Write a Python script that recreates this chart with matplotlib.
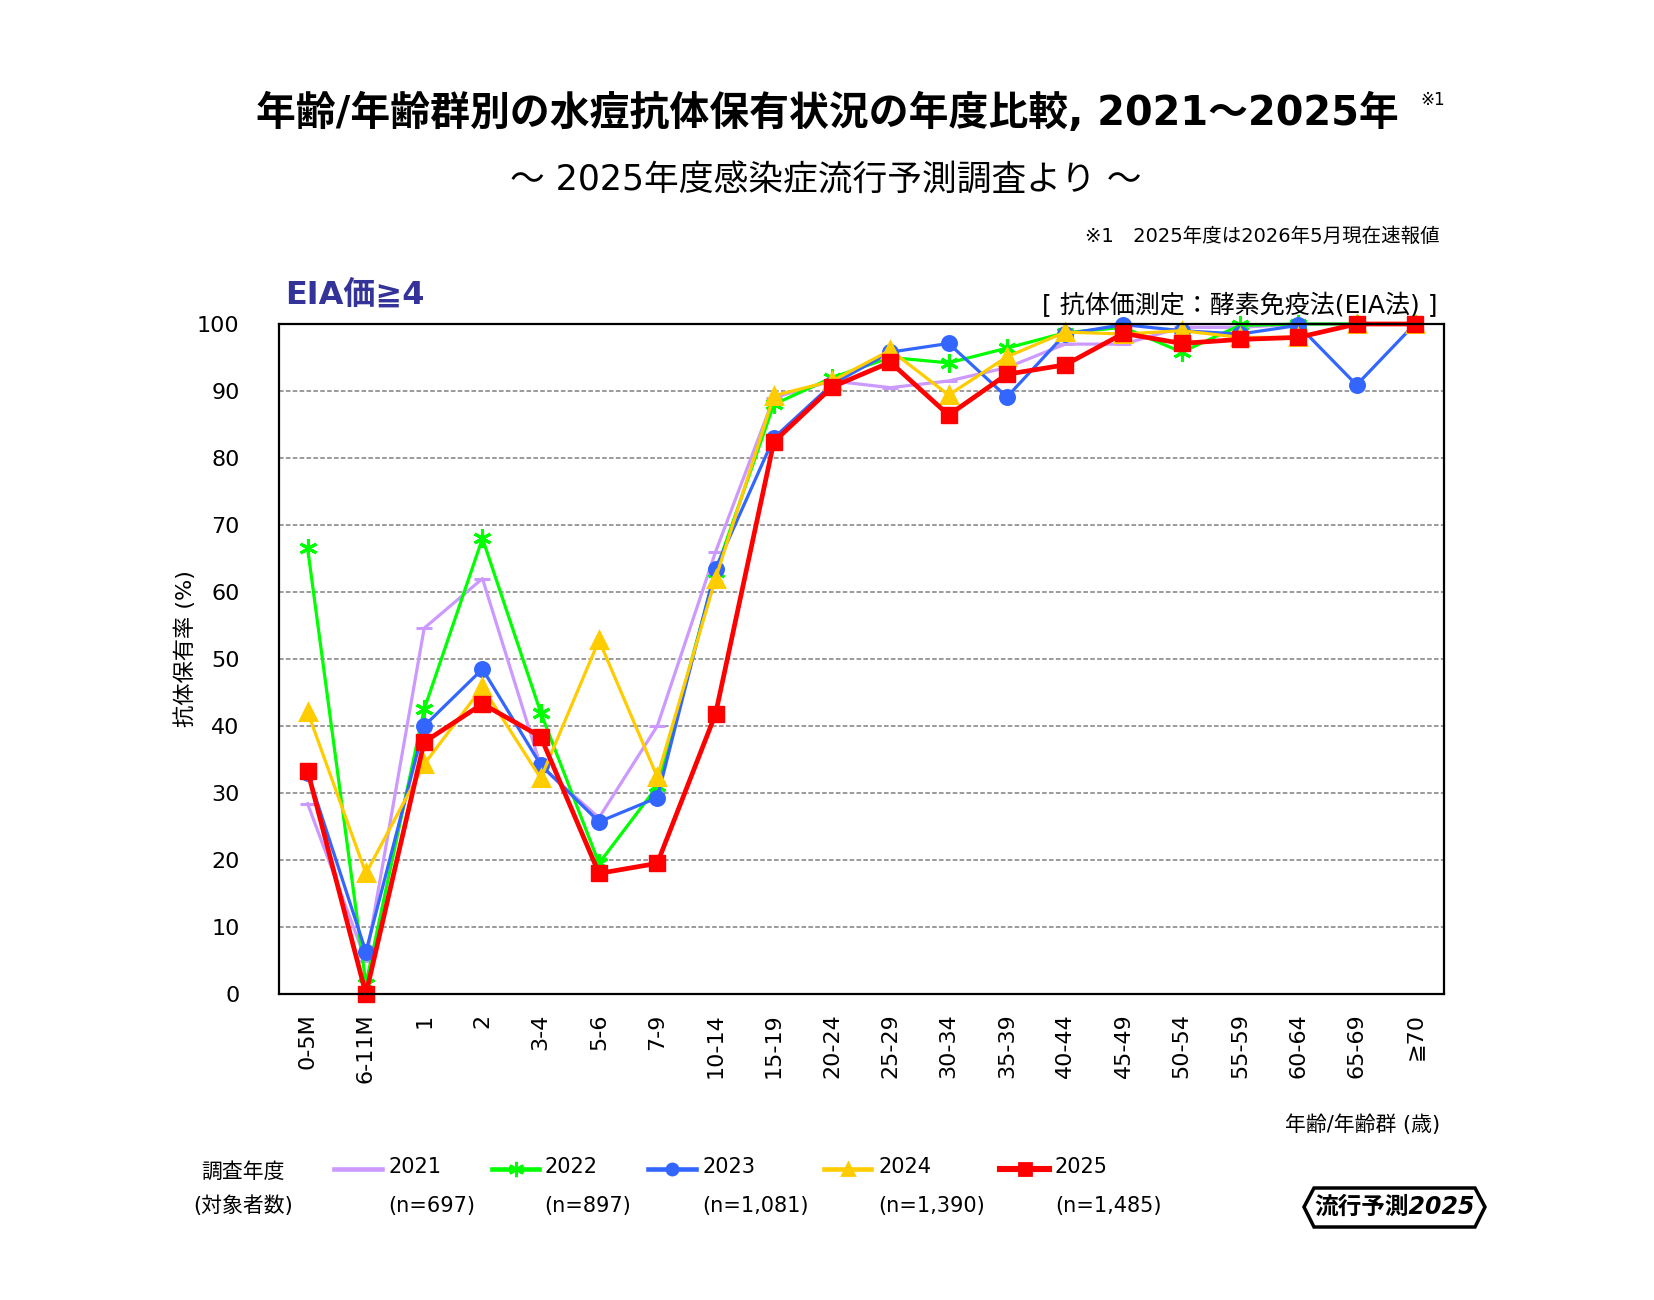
import matplotlib
matplotlib.use("Agg")
import matplotlib.pyplot as plt
from matplotlib.lines import Line2D
from matplotlib.patches import Polygon

plt.rcParams['font.family'] = ['DejaVu Sans', 'Noto Sans CJK JP']

ages = ["0-5M", "6-11M", "1", "2", "3-4", "5-6", "7-9", "10-14", "15-19", "20-24",
        "25-29", "30-34", "35-39", "40-44", "45-49", "50-54", "55-59", "60-64", "65-69", "≧70"]

y2021 = [28.4, 5.0, 54.6, 62.0, 34.0, 26.3, 40.0, 66.0, 89.0, 91.5,
         90.5, 91.5, 93.5, 97.0, 97.0, 99.5, 99.5, 100, 100, 100]
y2022 = [66.5, 1.5, 42.5, 68.0, 42.0, 19.5, 31.0, 63.0, 88.0, 92.0,
         95.0, 94.2, 96.4, 98.7, 99.5, 95.8, 99.8, 100, 100, 100]
y2023 = [33.0, 6.3, 40.0, 48.5, 34.2, 25.7, 29.3, 63.5, 83.0, 91.0,
         95.8, 97.1, 89.1, 98.5, 99.9, 99.0, 98.5, 99.8, 90.9, 100]
y2024 = [42.1, 18.0, 34.3, 45.8, 32.2, 52.8, 32.4, 62.0, 89.3, 91.5,
         96.1, 89.4, 95.1, 98.8, 98.5, 99.0, 98.0, 98.0, 100, 100]
y2025 = [33.3, 0.0, 37.6, 43.3, 38.4, 18.0, 19.5, 41.8, 82.4, 90.6,
         94.3, 86.4, 92.5, 93.9, 98.6, 97.1, 97.7, 98.0, 100, 100]

years = ["2021", "2022", "2023", "2024", "2025"]
counts = ["(n=697)", "(n=897)", "(n=1,081)", "(n=1,390)", "(n=1,485)"]
series = [y2021, y2022, y2023, y2024, y2025]

colors = ["#CC99FF", "#00FF00", "#3366FF", "#FFCC00", "#FF0000"]
markers = ["_", (6, 2, 0), "o", "^", "s"]
msizes = [11, 13, 10, 11, 11]
widths = [2.3, 2.3, 2.3, 2.3, 3.4]

W, H = 1654, 1300


def fx(x):
    return x / W


def fy(y):
    return 1 - y / H


fig = plt.figure(figsize=(W / 100, H / 100), dpi=100)
ax = fig.add_axes([fx(278.5), fy(994), fx(1444) - fx(278.5), fy(324) - fy(994)])

xs = list(range(len(ages)))
for ys, c, m, ms, lw in zip(series, colors, markers, msizes, widths):
    ax.plot(xs, ys, color=c, lw=lw, marker=m, ms=ms, mew=2.2 if m != "s" else 1,
            mfc=c, mec=c, clip_on=False)

ax.set_xlim(-0.5, len(ages) - 0.5)
ax.set_ylim(0, 100)
ax.set_yticks(range(0, 101, 10))
ax.set_xticks(xs)
ax.set_xticklabels(ages, rotation=90, fontsize=16)
ax.tick_params(axis='y', length=0, pad=28, labelsize=16)
ax.tick_params(axis='x', length=0, pad=14)
for t in ax.get_yticklabels():
    t.set_horizontalalignment('right')
ax.grid(axis='y', color='#808080', ls=(0, (3, 1.5)), lw=1.1)
ax.set_axisbelow(True)
for s in ax.spines.values():
    s.set_linewidth(1.6)
    s.set_color('black')

# titles
fig.text(0.5, fy(114), "年齢/年齢群別の水痘抗体保有状況の年度比較, 2021～2025年",
         ha='center', va='center', fontsize=28.7, fontweight='bold')
fig.text(fx(1433), fy(100), "※1", ha='center', va='center', fontsize=12)
fig.text(fx(826), fy(181), "～ 2025年度感染症流行予測調査より ～",
         ha='center', va='center', fontsize=25)
fig.text(fx(1440), fy(236), "※1　2025年度は2026年5月現在速報値",
         ha='right', va='center', fontsize=14)
fig.text(fx(285), fy(295), "EIA価≧4", ha='left', va='center', fontsize=23,
         fontweight='bold', color='#333399')
fig.text(fx(1437), fy(305), "[ 抗体価測定：酵素免疫法(EIA法) ]",
         ha='right', va='center', fontsize=18)
fig.text(fx(185), fy(649), "抗体保有率 (%)", ha='center', va='center',
         rotation=90, fontsize=16)
fig.text(fx(1440), fy(1125), "年齢/年齢群 (歳)", ha='right', va='center', fontsize=15)

# legend
fig.text(fx(243), fy(1172), "調査年度", ha='center', va='center', fontsize=15)
fig.text(fx(243), fy(1206), "(対象者数)", ha='center', va='center', fontsize=15)
line_x = [(334, 382), (492, 539), (648, 696), (824, 871), (1000, 1049)]
text_x = [388, 544, 702, 878, 1055]
for i in range(5):
    x0, x1 = line_x[i]
    fig.add_artist(Line2D([fx(x0), fx(x1)], [fy(1169), fy(1169)],
                          color=colors[i], lw=widths[i] + 1))
    if i > 0:
        fig.add_artist(Line2D([fx((x0 + x1) / 2)], [fy(1169)], color=colors[i],
                              marker=markers[i], ms=msizes[i] - 2, mew=2,
                              mfc=colors[i], mec=colors[i]))
    fig.text(fx(text_x[i]), fy(1167), years[i], ha='left', va='center', fontsize=15)
    fig.text(fx(text_x[i]), fy(1206), counts[i], ha='left', va='center', fontsize=15)

# logo
hexagon = [(1304, 1207), (1314, 1188), (1475, 1188), (1485, 1207), (1475, 1227), (1314, 1227)]
fig.add_artist(Polygon([(fx(a), fy(b)) for a, b in hexagon], closed=True,
                       transform=fig.transFigure, fill=False, ec='black', lw=2.5))
fig.text(fx(1395), fy(1207), "流行予測2025", ha='center', va='center', fontsize=17,
         fontweight='bold', fontstyle='italic')

fig.savefig("out.png", dpi=100)
